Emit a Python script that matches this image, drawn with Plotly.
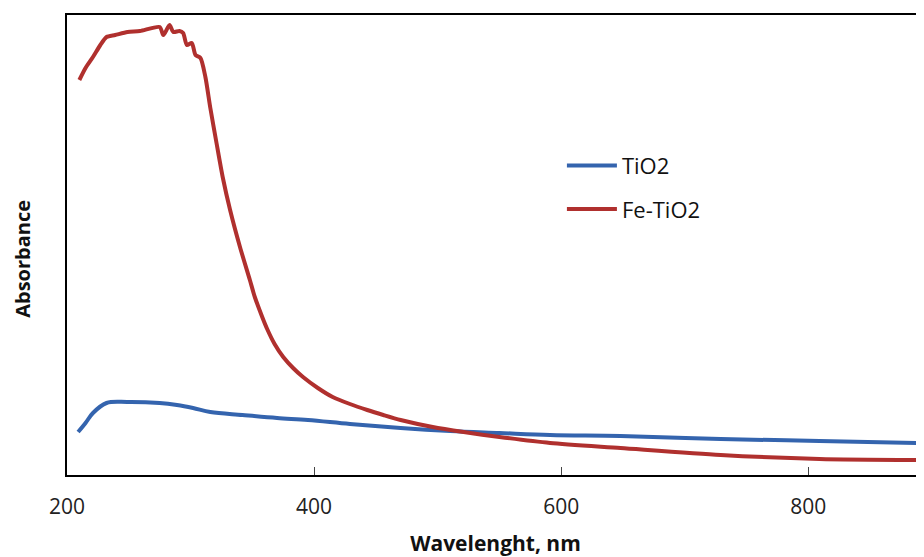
import plotly.graph_objects as go

# Wavelength (nm) and absorbance (a.u.)
wl_tio2 = [209, 215, 221, 232, 249, 275, 289, 302, 316, 342, 370, 395, 429, 470, 510,
           550, 591, 648, 729, 809, 889]
abs_tio2 = [0.215, 0.26, 0.31, 0.36, 0.365, 0.36, 0.35, 0.335, 0.315, 0.30, 0.285, 0.275,
            0.255, 0.235, 0.22, 0.21, 0.20, 0.195, 0.18, 0.17, 0.16]

wl_fe = [210, 215, 221, 227, 232, 239, 249, 259, 275, 278, 283, 286, 291, 294, 297, 301,
         304, 308, 312, 316, 321, 326, 332, 340, 348, 352, 358, 362, 368, 375, 383, 391,
         403, 415, 429, 443, 456, 470, 496, 521, 550, 591, 648, 729, 809, 889]
abs_fe = [1.975, 2.035, 2.09, 2.15, 2.19, 2.20, 2.215, 2.22, 2.24, 2.20, 2.25, 2.215,
          2.22, 2.21, 2.15, 2.16, 2.10, 2.085, 1.99, 1.835, 1.66, 1.49, 1.325, 1.14,
          0.975, 0.89, 0.79, 0.73, 0.655, 0.59, 0.535, 0.49, 0.435, 0.39, 0.355, 0.325,
          0.30, 0.275, 0.24, 0.215, 0.19, 0.16, 0.135, 0.10, 0.08, 0.075]

x_ticks = [200, 400, 600, 800]

FONT = "Open Sans"

fig = go.Figure()
fig.add_trace(go.Scatter(x=wl_tio2, y=abs_tio2, mode="lines", name="TiO2",
                         legendgroup="a",
                         line=dict(color="#3464AE", width=4, shape="spline", smoothing=1.0)))
fig.add_trace(go.Scatter(x=wl_fe, y=abs_fe, mode="lines", name="Fe-TiO2",
                         legendgroup="b",
                         line=dict(color="#B0302E", width=4, shape="spline", smoothing=0.7)))

fig.add_annotation(text="<b>Absorbance</b>", textangle=-90, xref="paper", yref="paper",
                   x=0, y=0.47, xanchor="center", yanchor="middle", xshift=-44,
                   showarrow=False, font=dict(family=FONT, size=20, color="#111111"))

fig.update_layout(
    width=916, height=549,
    margin=dict(l=59, r=0, t=7, b=82),
    paper_bgcolor="white", plot_bgcolor="white",
    font=dict(family=FONT, color="#222222", size=20),
    showlegend=True,
    legend=dict(x=0.5775, y=0.718, xanchor="left", yanchor="top",
                bgcolor="rgba(0,0,0,0)", tracegroupgap=12, itemwidth=50,
                font=dict(family=FONT, size=22, color="#111111")),
    xaxis=dict(range=[200, 893.6], tickvals=x_ticks, ticks="inside", ticklen=8,
               tickcolor="#444444", tickwidth=1, ticklabelstandoff=12,
               showline=True, linecolor="black", linewidth=2, mirror=True,
               showgrid=False, zeroline=False, automargin=False,
               tickfont=dict(size=21, color="#222222"),
               title=dict(text="<b>Wavelenght, nm</b>", standoff=26,
                          font=dict(size=21, color="#111111"))),
    yaxis=dict(range=[0, 2.3], showticklabels=False, ticks="",
               showline=True, linecolor="black", linewidth=2, mirror=False,
               showgrid=False, zeroline=False, automargin=False),
)

fig.write_html("out.html")
